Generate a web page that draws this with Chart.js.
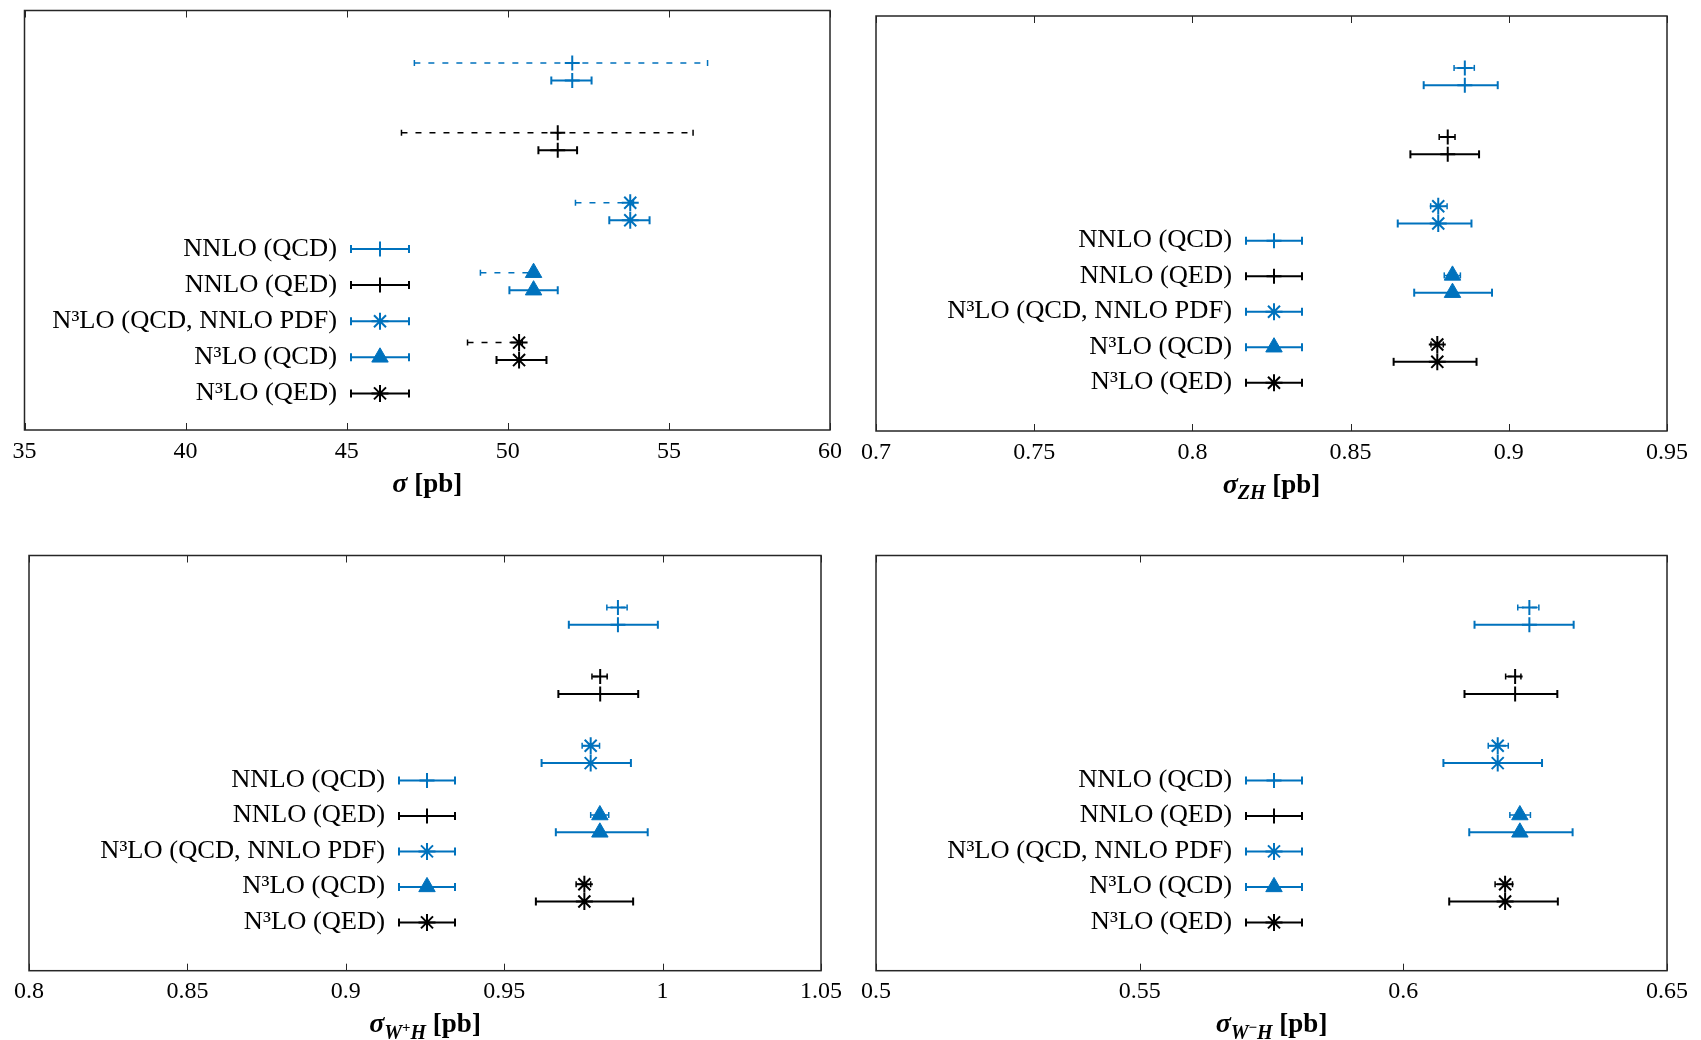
<!DOCTYPE html>
<html>
<head>
<meta charset="utf-8">
<title>Cross sections</title>
<script src="https://cdn.jsdelivr.net/npm/chart.js"></script>
<style>
  body { margin: 0; background: #fff; }
  #wrap { position: relative; width: 1701px; height: 1040px; }
  canvas { position: absolute; }
</style>
</head>
<body>
<div id="wrap">
  <canvas id="sigChart" width="850" height="520" style="left:0;top:0"></canvas>
  <canvas id="zhChart" width="851" height="520" style="left:850px;top:0"></canvas>
  <canvas id="wpChart" width="850" height="520" style="left:0;top:520px"></canvas>
  <canvas id="wmChart" width="851" height="520" style="left:850px;top:520px"></canvas>
</div>
<script>
////// data //////
const seriesLabels = ['NNLO (QCD)', 'NNLO (QED)', 'N³LO (QCD, NNLO PDF)', 'N³LO (QCD)', 'N³LO (QED)'];
const rowPos = [5, 4, 3, 2, 1]; // solid bar row, dashed bar sits a quarter above

// sigma [pb]
const sigCentral = [52.0, 51.55, 53.8, 50.8, 50.35];
const sigDashLo  = [47.1, 46.7, 52.1, 49.15, 48.75];
const sigDashHi  = [56.2, 55.75, 53.9, 50.9, 50.45];
const sigSolidLo = [51.35, 50.95, 53.15, 50.05, 49.65];
const sigSolidHi = [52.6, 52.15, 54.4, 51.55, 51.2];

// sigma_ZH [pb]
const zhCentral = [0.8861, 0.8807, 0.8777, 0.8822, 0.8774];
const zhDashLo  = [0.8827, 0.8780, 0.8753, 0.8796, 0.8754];
const zhDashHi  = [0.8891, 0.8830, 0.8805, 0.8847, 0.8793];
const zhSolidLo = [0.8731, 0.8689, 0.8649, 0.8701, 0.8636];
const zhSolidHi = [0.8965, 0.8906, 0.8882, 0.8947, 0.8898];

// sigma_W+H [pb]
const wpCentral = [0.9859, 0.9803, 0.9773, 0.9802, 0.9753];
const wpDashLo  = [0.9824, 0.9777, 0.9746, 0.9773, 0.9727];
const wpDashHi  = [0.9888, 0.9825, 0.9801, 0.9830, 0.9773];
const wpSolidLo = [0.9704, 0.9671, 0.9618, 0.9663, 0.9600];
const wpSolidHi = [0.9985, 0.9923, 0.9900, 0.9953, 0.9907];

// sigma_W-H [pb]
const wmCentral = [0.6239, 0.6212, 0.6179, 0.6221, 0.6193];
const wmDashLo  = [0.6217, 0.6194, 0.6161, 0.6202, 0.6174];
const wmDashHi  = [0.6257, 0.6223, 0.6199, 0.6241, 0.6207];
const wmSolidLo = [0.6135, 0.6116, 0.6076, 0.6125, 0.6087];
const wmSolidHi = [0.6323, 0.6292, 0.6263, 0.6321, 0.6293];

////// styles //////
const blue = '#0072BD';
const seriesColor = [blue, '#000000', blue, blue, '#000000'];
const seriesMarker = ['cross', 'cross', 'star', 'triangle', 'star'];
const markerRadius = [7.5, 7.5, 8.5, 9.5, 8.5];
const serif = '"Liberation Serif", "Times New Roman", serif';

////// helpers //////
function barDataset(lo, hi, y, color, dashed) {
  return {
    data: [{x: lo, y: y}, {x: hi, y: y}],
    showLine: true,
    borderColor: color,
    borderWidth: dashed ? 1.5 : 2,
    borderDash: dashed ? [6, 8] : [],
    pointStyle: 'line',
    pointRotation: 90,
    pointRadius: dashed ? 3 : 4,
    pointBorderWidth: dashed ? 1.5 : 2,
    pointBorderColor: color,
    pointHoverRadius: 0,
    order: 1
  };
}

function markerDataset(c, y, i) {
  return {
    data: [{x: c, y: y + 0.25}, {x: c, y: y}],
    pointStyle: seriesMarker[i],
    pointRadius: markerRadius[i],
    pointBorderWidth: seriesMarker[i] === 'triangle' ? 1 : 2,
    pointBorderColor: seriesColor[i],
    pointBackgroundColor: seriesColor[i],
    pointHoverRadius: 0,
    order: 0
  };
}

function drawMarker(ctx, style, r, x, y) {
  if (Chart.helpers && Chart.helpers.drawPoint) {
    Chart.helpers.drawPoint(ctx, {pointStyle: style, radius: r, rotation: 0, borderWidth: ctx.lineWidth}, x, y);
  }
}

const panelDecor = {
  id: 'panelDecor',
  afterDraw(chart, args, opts) {
    const ctx = chart.ctx;
    const a = chart.chartArea;
    const xs = chart.scales.x;
    ctx.save();

    // inward ticks, top and bottom
    ctx.strokeStyle = '#262626';
    ctx.lineWidth = 1;
    xs.ticks.forEach(t => {
      const px = Math.round(xs.getPixelForValue(t.value)) + 0.5;
      ctx.beginPath();
      ctx.moveTo(px, a.top); ctx.lineTo(px, a.top + 7);
      ctx.moveTo(px, a.bottom); ctx.lineTo(px, a.bottom - 7);
      ctx.stroke();
    });

    // box
    ctx.lineWidth = 1.5;
    ctx.strokeRect(a.left, a.top, a.right - a.left, a.bottom - a.top);

    // legend
    const lg = opts.legend;
    seriesLabels.forEach((lab, i) => {
      const y = a.bottom - lg.first + i * lg.step;
      const x0 = a.left + lg.left, x1 = x0 + lg.width, xc = (x0 + x1) / 2;
      ctx.strokeStyle = seriesColor[i];
      ctx.fillStyle = seriesColor[i];
      ctx.lineWidth = 2;
      ctx.beginPath();
      ctx.moveTo(x0, y); ctx.lineTo(x1, y);
      ctx.moveTo(x0, y - 4); ctx.lineTo(x0, y + 4);
      ctx.moveTo(x1, y - 4); ctx.lineTo(x1, y + 4);
      ctx.stroke();
      ctx.lineWidth = seriesMarker[i] === 'triangle' ? 1 : 2;
      drawMarker(ctx, seriesMarker[i], markerRadius[i], xc, y);
      // text a bit wider than the stock serif, like the LaTeX font
      ctx.save();
      ctx.translate(x0 - 14, y);
      ctx.scale(1.06, 1);
      ctx.fillStyle = '#000';
      ctx.font = '25px ' + serif;
      ctx.textAlign = 'right';
      ctx.textBaseline = 'middle';
      ctx.fillText(lab, 0, 0);
      ctx.restore();
    });

    // axis title with sub/superscripts
    const parts = opts.title;
    ctx.fillStyle = '#000';
    ctx.textAlign = 'left';
    ctx.textBaseline = 'alphabetic';
    let w = 0;
    parts.forEach(p => { ctx.font = p.f; w += ctx.measureText(p.t).width; });
    let x = (a.left + a.right) / 2 - w / 2;
    const yb = a.bottom + 61.5;
    parts.forEach(p => {
      ctx.font = p.f;
      ctx.fillText(p.t, x, yb + (p.dy || 0));
      x += ctx.measureText(p.t).width;
    });

    ctx.restore();
  }
};

const sigmaPart = {t: 'σ', f: 'bold italic 28px ' + serif};
const pbPart = {t: ' [pb]', f: 'bold 27px ' + serif};
const subFont = 'bold italic 20px ' + serif;

function makePanel(canvasId, p) {
  const datasets = [];
  seriesLabels.forEach((lab, i) => {
    datasets.push(markerDataset(p.central[i], rowPos[i], i));
    datasets.push(barDataset(p.dashLo[i], p.dashHi[i], rowPos[i] + 0.25, seriesColor[i], true));
    datasets.push(barDataset(p.solidLo[i], p.solidHi[i], rowPos[i], seriesColor[i], false));
  });

  return new Chart(document.getElementById(canvasId), {
    type: 'scatter',
    data: {datasets: datasets},
    plugins: [panelDecor],
    options: {
      responsive: false,
      animation: false,
      events: [],
      layout: {padding: p.pad},
      scales: {
        x: {
          type: 'linear',
          min: p.min,
          max: p.max,
          afterFit: s => { s.height = p.axisH; },
          grid: {display: false, drawTicks: false},
          border: {display: false},
          ticks: {
            stepSize: p.step,
            autoSkip: false,
            maxRotation: 0,
            padding: 7,
            color: '#000',
            font: {family: serif, size: 24},
            callback: v => String(parseFloat(Number(v).toFixed(3)))
          }
        },
        y: {type: 'linear', min: 0, max: 6, display: false}
      },
      plugins: {
        legend: {display: false},
        tooltip: {enabled: false},
        panelDecor: {legend: p.legend, title: p.title}
      }
    }
  });
}

////// charts //////
const legendWide = {left: 326.5, width: 58, first: 181, step: 36.1};
const legendStd = {left: 370, width: 56, first: 190.3, step: 35.5};

makePanel('sigChart', {
  central: sigCentral, dashLo: sigDashLo, dashHi: sigDashHi, solidLo: sigSolidLo, solidHi: sigSolidHi,
  min: 35, max: 60, step: 5,
  pad: {left: 24.5, top: 7.5, right: 20, bottom: 0}, axisH: 90,
  legend: legendWide,
  title: [sigmaPart, pbPart]
});

makePanel('zhChart', {
  central: zhCentral, dashLo: zhDashLo, dashHi: zhDashHi, solidLo: zhSolidLo, solidHi: zhSolidHi,
  min: 0.7, max: 0.95, step: 0.05,
  pad: {left: 26, top: 16, right: 34, bottom: 0}, axisH: 89,
  legend: legendStd,
  title: [sigmaPart, {t: 'ZH', f: subFont, dy: 6}, pbPart]
});

makePanel('wpChart', {
  central: wpCentral, dashLo: wpDashLo, dashHi: wpDashHi, solidLo: wpSolidLo, solidHi: wpSolidHi,
  min: 0.8, max: 1.05, step: 0.05,
  pad: {left: 29, top: 35.5, right: 29, bottom: 0}, axisH: 69.3,
  legend: legendStd,
  title: [sigmaPart, {t: 'W', f: subFont, dy: 7}, {t: '+', f: 'bold 15px ' + serif, dy: 0}, {t: 'H', f: subFont, dy: 7}, pbPart]
});

makePanel('wmChart', {
  central: wmCentral, dashLo: wmDashLo, dashHi: wmDashHi, solidLo: wmSolidLo, solidHi: wmSolidHi,
  min: 0.5, max: 0.65, step: 0.05,
  pad: {left: 26, top: 35.5, right: 34, bottom: 0}, axisH: 69.3,
  legend: legendStd,
  title: [sigmaPart, {t: 'W', f: subFont, dy: 7}, {t: '−', f: 'bold 15px ' + serif, dy: 0}, {t: 'H', f: subFont, dy: 7}, pbPart]
});
</script>
</body>
</html>
